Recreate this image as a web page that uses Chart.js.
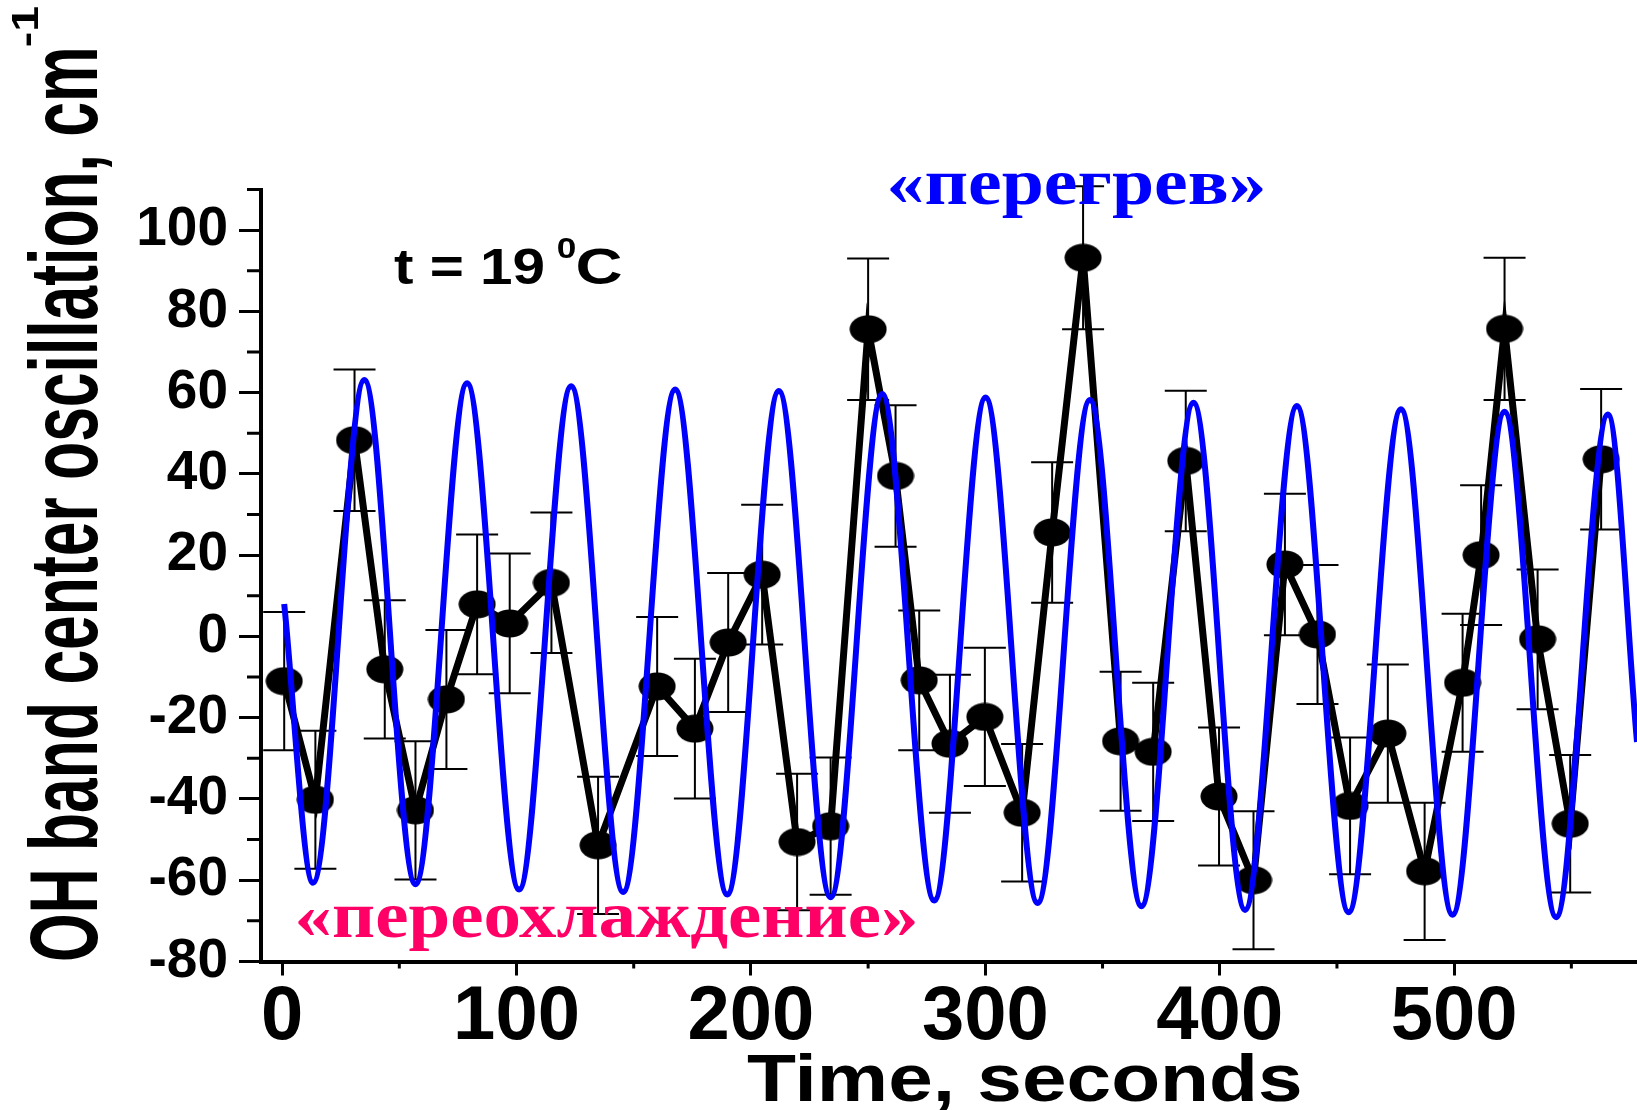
<!DOCTYPE html>
<html lang="en">
<head>
<meta charset="UTF-8">
<title>OH band center oscillation</title>
<script src="https://cdn.jsdelivr.net/npm/chart.js"></script>
<style>
  html, body { margin: 0; padding: 0; background: #fff; }
  #wrap { width: 1637px; height: 1110px; }
</style>
</head>
<body>
<div id="wrap"><canvas id="oscChart" width="1637" height="1110"></canvas></div>
<script>
// measured points (black), seconds / cm-1
const measTime = [0.9, 14.2, 30.9, 43.8, 56.9, 70.1, 83.2, 97.1, 114.9, 134.8,
  160.0, 176.1, 190.3, 204.8, 219.7, 234.0, 250.0, 261.7, 271.8, 284.9,
  299.8, 315.7, 328.5, 341.7, 357.7, 371.6, 385.5, 399.7, 414.4, 427.8,
  441.7, 455.6, 471.7, 487.4, 503.6, 511.5, 521.5, 535.6, 549.5, 562.7];
const measShift = [-11.0, -40.2, 48.3, -8.1, -42.8, -15.5, 7.9, 3.2, 13.2, -51.4,
  -12.3, -22.7, -1.5, 15.2, -50.6, -46.7, 75.6, 39.5, -10.8, -26.4,
  -19.8, -43.4, 25.6, 93.2, -25.8, -28.4, 43.2, -39.4, -60.0, 17.7,
  0.5, -41.7, -23.9, -57.8, -11.4, 20.0, 75.7, -0.7, -46.1, 43.6];
const measErr = [17.0, 17.0, 17.4, 17.0, 17.0, 17.1, 17.2, 17.2, 17.3, 16.9,
  17.1, 17.2, 17.1, 17.2, 16.8, 16.9, 17.4, 17.4, 17.2, 17.0,
  17.0, 16.9, 17.3, 17.6, 17.1, 17.0, 17.3, 17.0, 17.0, 17.4,
  17.1, 16.8, 17.0, 16.9, 17.0, 17.2, 17.5, 17.2, 16.9, 17.3];

// fitted oscillation (blue): start, alternating troughs / peaks, end
const fitTime = [0.9, 13.2, 35.1, 56.9, 78.9, 101.1, 123.3, 145.5, 167.7, 189.9,
  211.9, 234.0, 256.0, 278.2, 300.1, 322.3, 344.6, 366.6, 388.8, 410.8,
  432.9, 455.0, 477.3, 499.3, 521.5, 543.5, 565.6, 578.0];
const fitShift = [8.0, -60.6, 63.1, -61.0, 62.3, -62.3, 61.6, -62.9, 60.8, -63.5,
  60.4, -64.2, 59.7, -65.0, 58.8, -65.6, 58.2, -66.4, 57.5, -67.3,
  56.7, -67.9, 55.9, -68.5, 55.3, -69.1, 54.6, -26.0];

const xTicks = [0, 50, 100, 150, 200, 250, 300, 350, 400, 450, 500, 550];
const xTickLabels = ['0', '', '100', '', '200', '', '300', '', '400', '', '500', ''];
const yTicks = [-80, -70, -60, -50, -40, -30, -20, -10, 0, 10, 20, 30, 40, 50, 60, 70, 80, 90, 100, 110];
const yTickLabels = ['-80', '', '-60', '', '-40', '', '-20', '', '0', '', '20', '', '40', '', '60', '', '80', '', '100', ''];

const SANS = "'Liberation Sans', Arial, sans-serif";
const SERIF = "'Liberation Serif', 'Times New Roman', serif";

// elliptical marker
const marker = document.createElement('canvas');
marker.width = 38; marker.height = 29;
(function () {
  const c = marker.getContext('2d');
  c.fillStyle = '#000';
  c.beginPath();
  c.ellipse(19, 14.5, 18.5, 14, 0, 0, Math.PI * 2);
  c.fill();
})();

// draw text so its ink box spans [left, right] on the given baseline
function fitText(ctx, text, font, color, left, right, baseline) {
  ctx.save();
  ctx.font = font;
  ctx.fillStyle = color;
  ctx.textAlign = 'left';
  ctx.textBaseline = 'alphabetic';
  const m = ctx.measureText(text);
  const w = m.actualBoundingBoxLeft + m.actualBoundingBoxRight;
  ctx.translate(left, baseline);
  ctx.scale((right - left) / w, 1);
  ctx.fillText(text, m.actualBoundingBoxLeft, 0);
  ctx.restore();
}

function fitTextUp(ctx, text, font, color, bottom, top, baselineX) {
  ctx.save();
  ctx.translate(baselineX, 0);
  ctx.rotate(-Math.PI / 2);
  fitText(ctx, text, font, color, -bottom, -top, 0);
  ctx.restore();
}

const decor = {
  id: 'decor',
  beforeDraw(chart) {
    const ctx = chart.ctx;
    ctx.save();
    ctx.fillStyle = '#fff';
    ctx.fillRect(0, 0, chart.width, chart.height);
    ctx.restore();
  },
  beforeDatasetsDraw(chart) {
    // error bars
    const ctx = chart.ctx, xs = chart.scales.x, ys = chart.scales.y;
    ctx.save();
    ctx.strokeStyle = '#000';
    ctx.lineWidth = 2;
    const cap = 21;
    measTime.forEach((t, i) => {
      const px = xs.getPixelForValue(t);
      const top = ys.getPixelForValue(measShift[i] + measErr[i]);
      const bot = ys.getPixelForValue(measShift[i] - measErr[i]);
      ctx.beginPath();
      ctx.moveTo(px, top); ctx.lineTo(px, bot);
      ctx.moveTo(px - cap, top); ctx.lineTo(px + cap, top);
      ctx.moveTo(px - cap, bot); ctx.lineTo(px + cap, bot);
      ctx.stroke();
    });
    ctx.restore();
  },
  afterDraw(chart) {
    const ctx = chart.ctx, xs = chart.scales.x, ys = chart.scales.y;
    const area = chart.chartArea;
    // minor ticks
    ctx.save();
    ctx.strokeStyle = '#000';
    ctx.lineWidth = 3;
    ctx.beginPath();
    xTicks.forEach((v, i) => {
      if (xTickLabels[i] !== '') return;
      const px = xs.getPixelForValue(v);
      ctx.moveTo(px, area.bottom); ctx.lineTo(px, area.bottom + 7);
    });
    yTicks.forEach((v, i) => {
      if (yTickLabels[i] !== '') return;
      const py = ys.getPixelForValue(v);
      ctx.moveTo(area.left, py); ctx.lineTo(area.left - 14, py);
    });
    ctx.stroke();
    ctx.restore();

    // axis titles
    fitText(ctx, 'Time, seconds', 'bold 67px ' + SANS, '#000', 747, 1300, 1101);
    fitTextUp(ctx, 'OH band center oscillation, cm', 'bold 96px ' + SANS, '#000', 960, 50, 97);
    fitTextUp(ctx, '-1', 'bold 36px ' + SANS, '#000', 46, 6, 38);

    // annotations
    fitText(ctx, 't = 19', 'bold 50px ' + SANS, '#000', 394, 543, 283.5);
    fitText(ctx, '0', 'bold 29px ' + SANS, '#000', 558, 575, 258);
    fitText(ctx, 'C', 'bold 50px ' + SANS, '#000', 578, 621, 283.5);
    fitText(ctx, '«перегрев»', 'bold 66px ' + SERIF, '#0000ff', 890, 1263, 203.5);
    fitText(ctx, '«переохлаждение»', 'bold 66px ' + SERIF, '#ff0066', 298, 915, 937);
  }
};

const ctx = document.getElementById('oscChart').getContext('2d');
new Chart(ctx, {
  type: 'line',
  data: {
    datasets: [
      {
        label: 'fit',
        data: fitTime.map((t, i) => ({ x: t, y: fitShift[i] })),
        borderColor: '#0000ff',
        borderWidth: 6,
        pointRadius: 0,
        cubicInterpolationMode: 'monotone',
        fill: false
      },
      {
        label: 'OH band center',
        data: measTime.map((t, i) => ({ x: t, y: measShift[i] })),
        borderColor: '#000',
        borderWidth: 7,
        pointStyle: marker,
        pointRadius: 18,
        fill: false,
        tension: 0
      }
    ]
  },
  options: {
    responsive: false,
    animation: false,
    devicePixelRatio: 1,
    layout: { autoPadding: false, padding: { top: 189.5, right: 0, bottom: 0, left: 0 } },
    plugins: { legend: { display: false }, tooltip: { enabled: false } },
    scales: {
      x: {
        type: 'linear',
        min: -9,
        max: 578,
        afterBuildTicks: s => { s.ticks = xTicks.map(v => ({ value: v })); },
        afterFit: s => { s.height = 148.5; s.paddingLeft = 0; s.paddingRight = 0; },
        border: { display: true, color: '#000', width: 4 },
        grid: {
          display: true,
          drawOnChartArea: false,
          tickLength: 14,
          tickWidth: 3,
          tickColor: c => xTickLabels[xTicks.indexOf(c.tick.value)] ? '#000' : 'rgba(0,0,0,0)'
        },
        ticks: {
          autoSkip: false,
          maxRotation: 0,
          minRotation: 0,
          padding: 5,
          color: '#000',
          font: { family: SANS, size: 76, weight: 'bold', lineHeight: 1 },
          callback: v => xTickLabels[xTicks.indexOf(v)] || ''
        }
      },
      y: {
        min: -80,
        max: 110,
        afterBuildTicks: s => { s.ticks = yTicks.map(v => ({ value: v })); },
        afterFit: s => { s.width = 261; s.paddingTop = 0; s.paddingBottom = 0; },
        border: { display: true, color: '#000', width: 4 },
        grid: {
          display: true,
          drawOnChartArea: false,
          tickLength: 22,
          tickWidth: 3,
          tickColor: c => yTickLabels[yTicks.indexOf(c.tick.value)] ? '#000' : 'rgba(0,0,0,0)'
        },
        ticks: {
          autoSkip: false,
          padding: 11,
          color: '#000',
          font: { family: SANS, size: 55, weight: 'bold', lineHeight: 1 },
          callback: v => yTickLabels[yTicks.indexOf(v)] || ''
        }
      }
    }
  },
  plugins: [decor]
});
</script>
</body>
</html>
